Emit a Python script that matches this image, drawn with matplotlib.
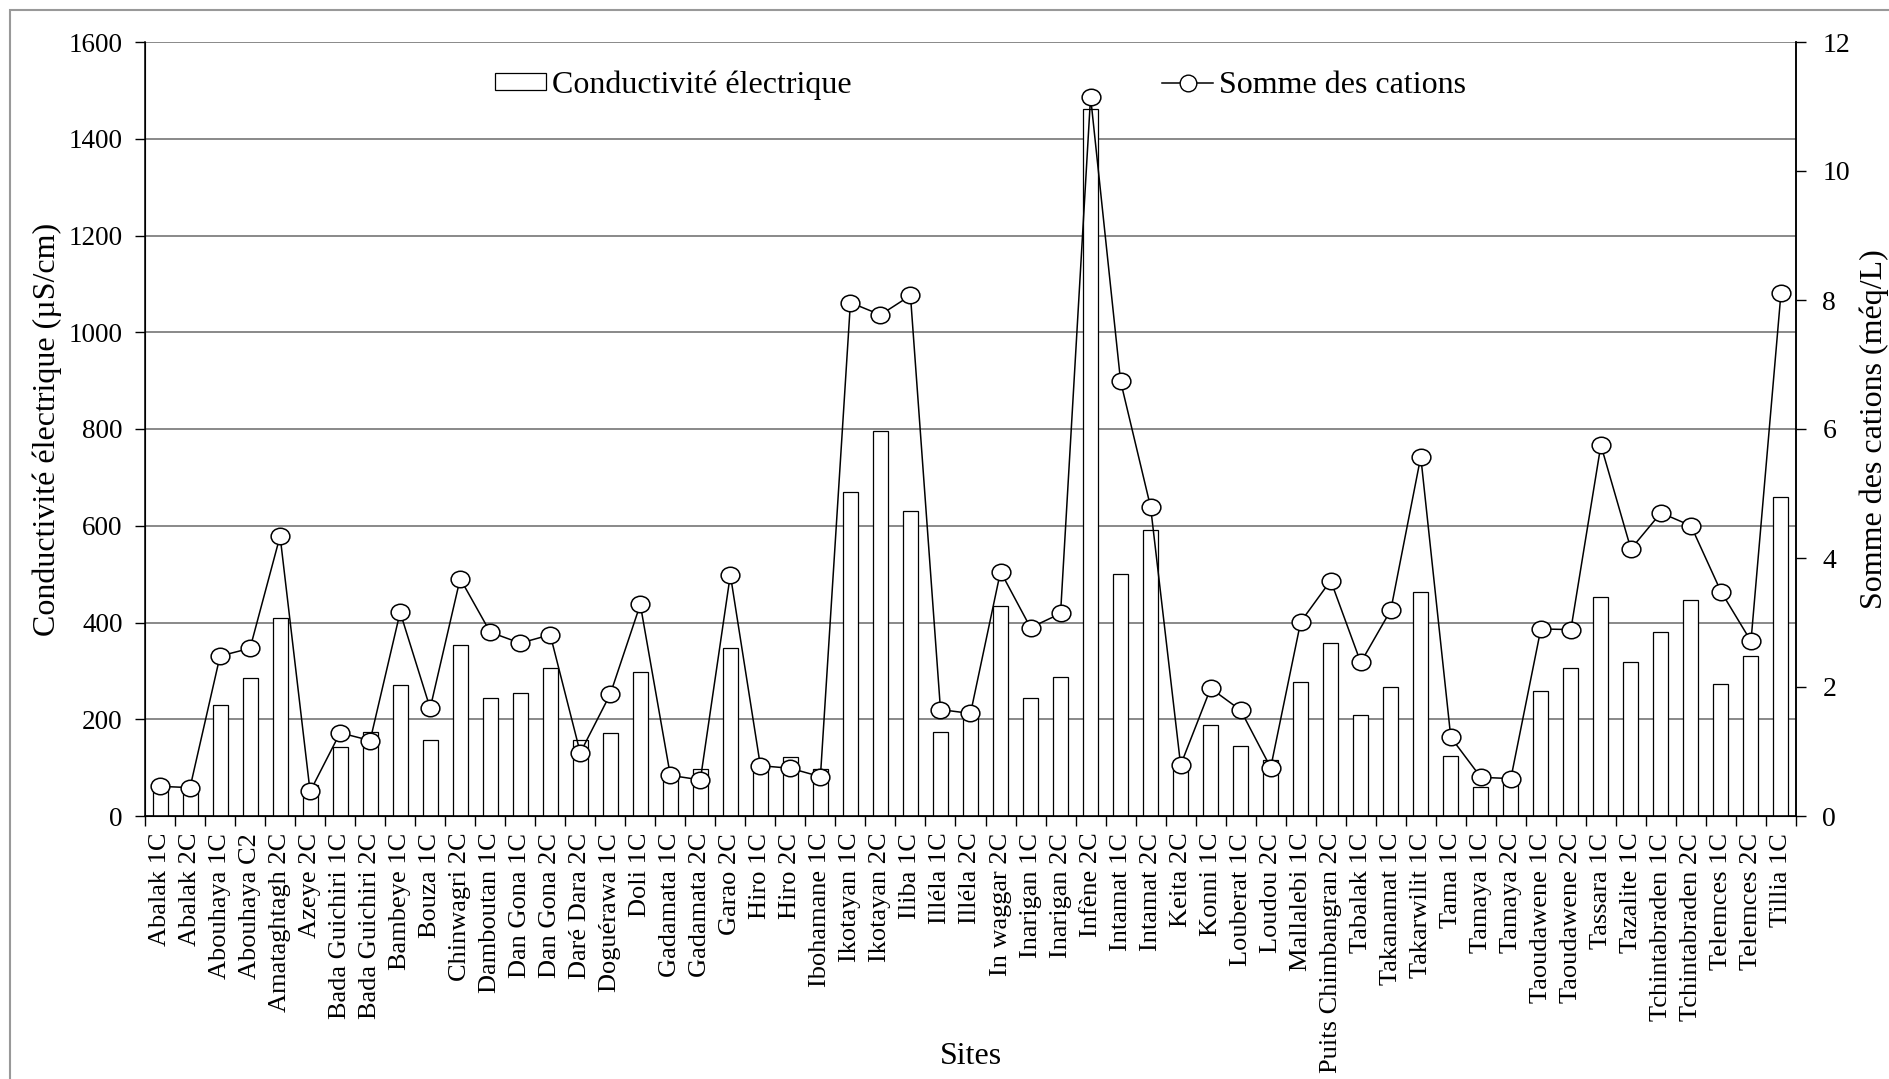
import numpy as np
import matplotlib
matplotlib.use("Agg")
import matplotlib.pyplot as plt
from matplotlib.lines import Line2D
from matplotlib.patches import Patch, Rectangle
from matplotlib.path import Path
from matplotlib.transforms import Affine2D

plt.rcParams['font.family'] = ['Liberation Serif', 'DejaVu Serif']

sites = ['Abalak 1C', 'Abalak 2C', 'Abouhaya 1C', 'Abouhaya C2', 'Amataghtagh 2C',
         'Azeye 2C', 'Bada Guichiri 1C', 'Bada Guichiri 2C', 'Bambeye 1C', 'Bouza 1C',
         'Chinwagri 2C', 'Damboutan 1C', 'Dan Gona 1C', 'Dan Gona 2C', 'Daré Dara 2C',
         'Doguérawa 1C', 'Doli 1C', 'Gadamata 1C', 'Gadamata 2C', 'Garao 2C',
         'Hiro 1C', 'Hiro 2C', 'Ibohamane 1C', 'Ikotayan 1C', 'Ikotayan 2C',
         'Iliba 1C', 'Illéla 1C', 'Illéla 2C', 'In waggar 2C', 'Inarigan 1C',
         'Inarigan 2C', 'Infène 2C', 'Intamat 1C', 'Intamat 2C', 'Keita 2C',
         'Konni 1C', 'Louberat 1C', 'Loudou 2C', 'Mallalebi 1C', 'Puits Chimbangran 2C',
         'Tabalak 1C', 'Takanamat 1C', 'Takarwilit 1C', 'Tama 1C', 'Tamaya 1C',
         'Tamaya 2C', 'Taoudawene 1C', 'Taoudawene 2C', 'Tassara 1C', 'Tazalite 1C',
         'Tchintabraden 1C', 'Tchintabraden 2C', 'Telemces 1C', 'Telemces 2C', 'Tillia 1C']

# conductivite electrique (uS/cm)
ce = [70, 65, 230, 286, 410, 65, 142, 174, 271, 157,
      353, 244, 254, 306, 157, 172, 297, 92, 97, 347,
      103, 121, 97, 669, 796, 631, 174, 203, 435, 244,
      287, 1462, 500, 591, 103, 189, 145, 115, 278, 358,
      208, 266, 463, 125, 60, 70, 258, 306, 452, 318,
      380, 446, 272, 330, 659]

# somme des cations (meq/L)
cations = [0.46, 0.44, 2.48, 2.60, 4.34, 0.38, 1.29, 1.17, 3.16, 1.67,
           3.68, 2.85, 2.68, 2.81, 0.98, 1.89, 3.28, 0.63, 0.56, 3.74,
           0.78, 0.74, 0.61, 7.96, 7.77, 8.07, 1.65, 1.59, 3.79, 2.92,
           3.14, 11.15, 6.74, 4.79, 0.79, 1.98, 1.64, 0.75, 3.01, 3.65,
           2.38, 3.19, 5.57, 1.22, 0.60, 0.58, 2.90, 2.89, 5.75, 4.14,
           4.70, 4.50, 3.48, 2.71, 8.11]

W, H = 1890, 1079
fig = plt.figure(figsize=(W / 100, H / 100), dpi=100)
ax = fig.add_axes([145 / W, 1 - 816 / H, (1796 - 145) / W, (816 - 42) / H])

x = np.arange(len(sites))

ax.bar(x, ce, width=0.5, color='white', edgecolor='black', linewidth=0.9, zorder=2)
ax.set_xlim(-0.5, len(sites) - 0.5)
ax.set_ylim(0, 1600)
ax.set_yticks(range(0, 1601, 200))
ax.yaxis.grid(True, color='#808080', linewidth=1.3)
ax.set_axisbelow(True)

ax.set_xticks(x)
ax.set_xticklabels(sites, rotation=90, fontsize=19)
ax.set_xticks(np.arange(-0.5, len(sites)), minor=True)
ax.tick_params(axis='x', which='major', length=0, pad=12)
ax.tick_params(axis='x', which='minor', length=7, width=1, direction='out')
ax.tick_params(axis='y', length=7, width=1, labelsize=19.5, pad=9)

ax.spines['top'].set_visible(False)
for s in ['left', 'right', 'bottom']:
    ax.spines[s].set_linewidth(1.1)

ax.set_ylabel('Conductivité électrique (µS/cm)', fontsize=23, labelpad=5)
ax.set_xlabel('Sites', fontsize=23, va='center')
ax.xaxis.set_label_coords(0.5, ((1 - 1056 / H) - (1 - 816 / H)) / ((816 - 42) / H))

# ligne des cations, marqueur legerement aplati
ell = Path.unit_circle().transformed(Affine2D().scale(1, 0.88))
ax2 = ax.twinx()
ax2.plot(x, cations, color='black', linewidth=1.1, marker=ell, markersize=13.5,
         markerfacecolor='white', markeredgecolor='black', markeredgewidth=1.1, zorder=3)
ax2.set_ylim(0, 12)
ax2.set_yticks(range(0, 13, 2))
ax2.tick_params(axis='y', length=7, width=1, labelsize=20, pad=12)
ax2.spines['top'].set_visible(False)
ax2.spines['right'].set_linewidth(1.1)
ax2.set_ylabel('Somme des cations (méq/L)', fontsize=23, labelpad=7)

handles = [Patch(facecolor='white', edgecolor='black', linewidth=0.9, label='Conductivité électrique'),
           Line2D([0], [0], color='black', linewidth=1.1, marker='o', markersize=12,
                  markerfacecolor='white', markeredgecolor='black', label='Somme des cations')]
fig.legend(handles=handles, loc='center left', bbox_to_anchor=(495 / W, 1 - 85 / H),
           ncol=2, frameon=False, fontsize=23, handlelength=1.6, handleheight=0.45,
           handletextpad=0.2, columnspacing=9.7, borderpad=0, borderaxespad=0)

# cadre gris autour de la figure
fig.patches.append(Rectangle((10 / W, -0.05), 1.2, 1.05 - 10 / H, transform=fig.transFigure,
                             fill=False, edgecolor='#999999', linewidth=1.5))

fig.savefig('out.png', dpi=100)
